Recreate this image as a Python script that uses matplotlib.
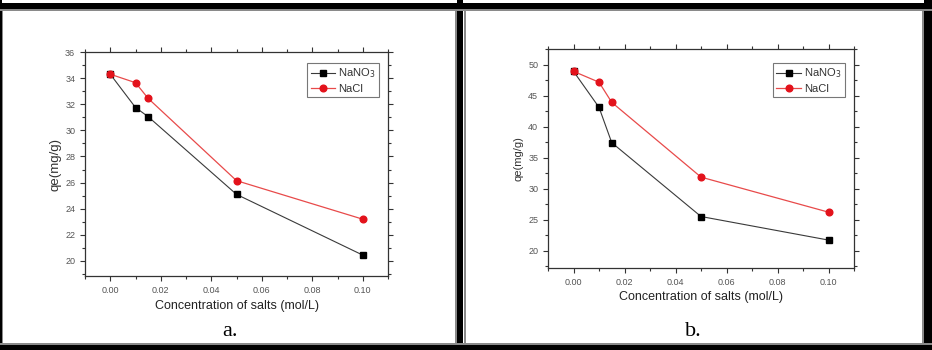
import matplotlib
matplotlib.use("Agg")
import matplotlib.pyplot as plt
from matplotlib.patches import Rectangle
from matplotlib.ticker import MultipleLocator

# salt concentration (mol/L)
conc = [0.0, 0.01, 0.015, 0.05, 0.1]

# panel a
qe_a_nano3 = [34.3, 31.75, 31.05, 25.1, 20.45]
qe_a_nacl = [34.3, 33.65, 32.45, 26.15, 23.2]

# panel b
qe_b_nano3 = [48.9, 43.1, 37.4, 25.5, 21.7]
qe_b_nacl = [48.9, 47.15, 43.9, 31.85, 26.2]

panel_labels = ["a.", "b."]
series_labels = ["NaNO$_3$", "NaCl"]

W, H = 932, 350
plt.rcParams['font.family'] = ['Liberation Sans', 'DejaVu Sans']

fig = plt.figure(figsize=(W / 100, H / 100), dpi=100)
fig.patch.set_facecolor('white')


def px_rect(x0, y0, x1, y1, color):
    """rectangle given in image pixels (y from top)"""
    fig.patches.append(Rectangle((x0 / W, 1 - y1 / H), (x1 - x0) / W, (y1 - y0) / H,
                                 transform=fig.transFigure, facecolor=color,
                                 edgecolor='none', zorder=0))


# outer frame
px_rect(0, 3, W, 9, 'black')
px_rect(0, 345, W, H, 'black')
px_rect(924, 0, W, H, 'black')
px_rect(0, 0, 1.5, H, 'black')
px_rect(457, 0, 463, H, 'black')
# thin grey inner lines
for r in [(0, 9, W, 10.5), (0, 343, W, 344.5), (922, 9, 923.5, 345),
          (1.5, 9, 3, 345), (455, 9, 456.5, 345), (464, 9, 465.5, 345)]:
    px_rect(*r, '#8a8a8a')


def make_panel(rect, y1, y2, ylim, ymajor, ylab_size, xlab_pos, ylab_x, plab_pos, leg_anchor):
    ax = fig.add_axes(rect)
    ax.plot(conc, y1, color='#3a3a3a', lw=0.8, marker='s', ms=4,
            mfc='black', mec='black', label=series_labels[0])
    ax.plot(conc, y2, color='#e84a4a', lw=0.9, marker='o', ms=4.8,
            mfc='#e3121b', mec='#e3121b', label=series_labels[1])
    ax.set_xlim(-0.01, 0.11)
    ax.set_ylim(*ylim)
    ax.xaxis.set_major_locator(MultipleLocator(0.02))
    ax.xaxis.set_minor_locator(MultipleLocator(0.01))
    ax.yaxis.set_major_locator(MultipleLocator(ymajor))
    ax.yaxis.set_minor_locator(MultipleLocator(ymajor / 2))
    ax.xaxis.set_major_formatter(plt.FuncFormatter(lambda v, p: f"{v:.2f}"))
    for s in ax.spines.values():
        s.set_color('#333333')
        s.set_linewidth(0.9)
    ax.tick_params(which='both', direction='out', colors='#333333', labelcolor='#555555',
                   labelsize=6.5, width=0.8)
    ax.tick_params(which='major', length=3.5)
    ax.tick_params(which='minor', length=2)
    ax.tick_params(which='both', top=True, right=True)
    leg = ax.legend(loc='upper right', bbox_to_anchor=leg_anchor, fontsize=8,
                    frameon=True, fancybox=False, handlelength=2.2,
                    borderpad=0.3, labelspacing=0.3, handletextpad=0.3,
                    borderaxespad=0)
    leg.get_frame().set_edgecolor('#555555')
    leg.get_frame().set_linewidth(0.8)
    for t in leg.get_texts():
        t.set_color('#333333')

    fig.text(xlab_pos[0] / W, 1 - xlab_pos[1] / H, "Concentration of salts (mol/L)",
             ha='center', va='center', fontsize=9, color='#222222')
    cy = rect[1] + rect[3] / 2
    fig.text(ylab_x / W, cy, "qe(mg/g)", rotation=90, ha='center', va='center',
             fontsize=ylab_size, color='#333333')
    fig.text(plab_pos[0] / W, 1 - plab_pos[1] / H, plab_pos[2], ha='center', va='center',
             fontsize=16, family='Liberation Serif', color='black')
    return ax


make_panel([85 / W, 1 - 276 / H, (388 - 85) / W, (276 - 52) / H],
           qe_a_nano3, qe_a_nacl, (18.85, 36), 2, 9.5,
           (237, 306), 56, (230, 331, panel_labels[0]), (0.97, 0.95))
make_panel([548 / W, 1 - 268 / H, (854 - 548) / W, (268 - 49) / H],
           qe_b_nano3, qe_b_nacl, (17.2, 52.5), 5, 8,
           (701, 297), 519, (693, 331, panel_labels[1]), (0.97, 0.935))

fig.savefig("out.png", dpi=100, facecolor='white')
